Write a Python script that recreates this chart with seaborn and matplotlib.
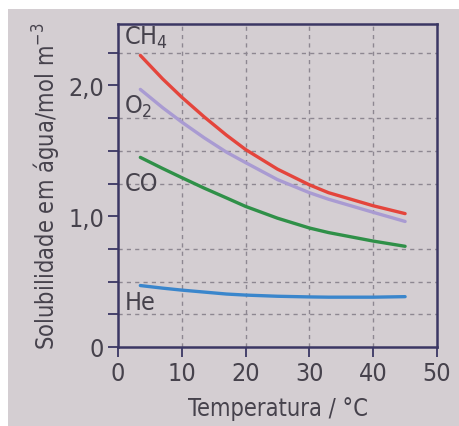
import matplotlib
matplotlib.use("Agg")
import matplotlib.pyplot as plt
import seaborn as sns
import pandas as pd
from matplotlib.patches import Rectangle

# ---- data ----
temps = [3.5, 7, 10, 13.5, 17, 20, 25, 30, 33, 40, 45]
ch4 = [2.23, 2.05, 1.91, 1.76, 1.62, 1.51, 1.36, 1.24, 1.18, 1.08, 1.02]
o2 = [1.97, 1.83, 1.72, 1.60, 1.49, 1.41, 1.28, 1.18, 1.13, 1.03, 0.96]
co = [1.45, 1.365, 1.295, 1.215, 1.14, 1.075, 0.985, 0.91, 0.875, 0.81, 0.77]
he = [0.47, 0.45, 0.435, 0.42, 0.405, 0.397, 0.388, 0.383, 0.381, 0.381, 0.385]
gases = ["CH4", "O2", "CO", "He"]
gas_labels = ["CH$_4$", "O$_2$", "CO", "He"]
label_y = [2.27, 1.74, 1.16, 0.25]
xticks = [0, 10, 20, 30, 40, 50]
xticklabels = ["0", "10", "20", "30", "40", "50"]
yticks = [0, 1.0, 2.0]
yticklabels = ["0", "1,0", "2,0"]
minor_y = [0.25, 0.5, 0.75, 1.25, 1.5, 1.75, 2.25]

colors = {"CH4": "#e4453c", "O2": "#a99bd2", "CO": "#2f9048", "He": "#3a86cc"}

df = pd.DataFrame({
    "T": temps * 4,
    "S": ch4 + o2 + co + he,
    "gas": [g for g in gases for _ in temps],
})

sns.set_theme(style="ticks")
plt.rcParams["font.family"] = ["DejaVu Sans"]
plt.rcParams["font.stretch"] = "condensed"
plt.rcParams["mathtext.fontset"] = "custom"
plt.rcParams["mathtext.rm"] = "DejaVu Sans:stretch=condensed"
plt.rcParams["mathtext.it"] = "DejaVu Sans:stretch=condensed"

bg = "#d4ced2"
txt = "#46424c"
spine = "#3b3764"

fig = plt.figure(figsize=(4.6, 4.27), dpi=100, facecolor="white")
fig.patches.append(Rectangle((8 / 460, 0), 1, 1 - 10 / 427, transform=fig.transFigure,
                             facecolor=bg, edgecolor="none", zorder=-10))
ax = fig.add_axes([118 / 460, 1 - 348 / 427, (437 - 118) / 460, (348 - 25) / 427])
ax.set_facecolor(bg)

sns.lineplot(data=df, x="T", y="S", hue="gas", palette=colors, linewidth=2.4,
             legend=False, ax=ax, zorder=3)

ax.set_xlim(0, 50)
ax.set_ylim(0, 2.47)
ax.set_xticks(xticks, xticklabels)
ax.set_yticks(yticks, yticklabels)
ax.set_yticks(minor_y, minor=True)

for v in minor_y:
    ax.axhline(v, color="#8d8791", lw=1, ls=(0, (3, 3)), zorder=1)
for v in xticks[1:-1]:
    ax.axvline(v, color="#8d8791", lw=1, ls=(0, (3, 3)), zorder=1)

for s in ax.spines.values():
    s.set_color(spine)
    s.set_linewidth(1.8)
    s.set_visible(True)

ax.tick_params(axis="both", which="both", direction="out", length=7, width=1.3,
               color=spine, labelcolor=txt, labelsize=18, pad=3)
ax.tick_params(axis="y", which="minor", length=7)

for lab, y in zip(gas_labels, label_y):
    ax.text(1.0, y, lab, fontsize=18, color=txt, ha="left", va="bottom", zorder=4)

ax.set_xlabel("Temperatura / °C", fontsize=17, color=txt, labelpad=8)
ax.set_ylabel("Solubilidade em água/mol m$^{-3}$", fontsize=17, color=txt, labelpad=4)

fig.savefig("out.png", dpi=100, facecolor="white")
